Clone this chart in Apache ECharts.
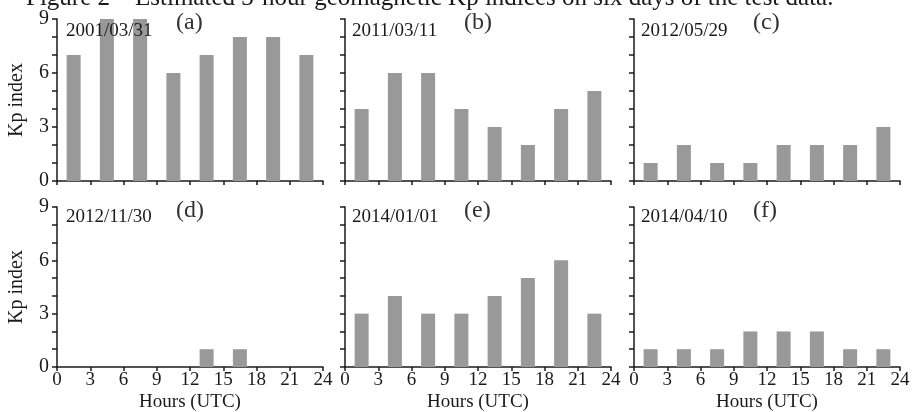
<!DOCTYPE html>
<html>
<head>
<meta charset="utf-8">
<script src="https://cdn.jsdelivr.net/npm/echarts@6/dist/echarts.min.js"></script>
<style>
  html, body { margin: 0; padding: 0; background: #fff; }
  #main { width: 912px; height: 412px; }
</style>
</head>
<body>
<div id="main"></div>
<script>
// 3-hour Kp index for each day, bins centred at 1.5, 4.5, ... 22.5 UTC
var hours = [1.5, 4.5, 7.5, 10.5, 13.5, 16.5, 19.5, 22.5];
var xTicks = ['0', '3', '6', '9', '12', '15', '18', '21', '24'];
var yTicks = ['0', '3', '6', '9'];
var dates = ['2001/03/31', '2011/03/11', '2012/05/29', '2012/11/30', '2014/01/01', '2014/04/10'];
var panelTags = ['(a)', '(b)', '(c)', '(d)', '(e)', '(f)'];
var kpA = [7, 9, 9, 6, 7, 8, 8, 7];
var kpB = [4, 6, 6, 4, 3, 2, 4, 5];
var kpC = [1, 2, 1, 1, 2, 2, 2, 3];
var kpD = [0, 0, 0, 0, 1, 1, 0, 0];
var kpE = [3, 4, 3, 3, 4, 5, 6, 3];
var kpF = [1, 1, 1, 2, 2, 2, 1, 1];
var kpAll = [kpA, kpB, kpC, kpD, kpE, kpF];

var myChart = echarts.init(document.getElementById('main'));

var font = '"Liberation Serif", "DejaVu Serif", serif';
var ink = '#1a1a1a';
var lefts = [57, 345, 634];
var tops = [19, 207];
var w = 266, h = [162, 160];

var grid = [], xAxis = [], yAxis = [], series = [], graphic = [];

for (var i = 0; i < 6; i++) {
    var col = i % 3, row = Math.floor(i / 3);
    // keep the grid boxes fixed, labels may sit near the edge
    grid.push({ left: lefts[col], top: tops[row], width: w, height: h[row], outerBoundsMode: 'none', containLabel: false });
    xAxis.push({
        type: 'value', gridIndex: i, min: 0, max: 24, interval: 3,
        axisLine: { lineStyle: { color: ink, width: 1.5 } },
        axisTick: { show: true, length: 4, lineStyle: { color: ink, width: 1.5 } },
        splitLine: { show: false },
        axisLabel: {
            show: row === 1, margin: 4, color: ink, fontFamily: font, fontSize: 19,
            formatter: function (v) { return xTicks[v / 3]; }
        },
        name: row === 1 ? 'Hours (UTC)' : '',
        nameLocation: 'middle', nameGap: 26,
        nameTextStyle: { color: ink, fontFamily: font, fontSize: 19 }
    });
    yAxis.push({
        type: 'value', gridIndex: i, min: 0, max: 9, interval: 1,
        axisLine: { show: true, lineStyle: { color: ink, width: 1.5 } },
        axisTick: { show: true, length: 5, lineStyle: { color: ink, width: 1.5 } },
        splitLine: { show: false },
        axisLabel: {
            show: col === 0, margin: 8, color: ink, fontFamily: font, fontSize: 20,
            formatter: function (v) { return v % 3 === 0 ? yTicks[v / 3] : ''; }
        },
        name: col === 0 ? 'Kp index' : '',
        nameLocation: 'middle', nameGap: 30, nameRotate: 90,
        nameTextStyle: { color: ink, fontFamily: font, fontSize: 20 }
    });
    series.push({
        type: 'bar', xAxisIndex: i, yAxisIndex: i, barWidth: 14,
        itemStyle: { color: '#999999' },
        data: hours.map(function (hr, k) { return [hr, kpAll[i][k]]; })
    });
    graphic.push({
        type: 'text', z: 100, left: lefts[col] + (col === 0 ? 9 : 7), top: tops[row] + (row === 0 ? 3 : 1),
        style: { text: dates[i], font: '19px ' + font, fill: ink }
    });
    graphic.push({
        type: 'text', z: 100, left: lefts[col] + 119, top: tops[row] - 8,
        style: { text: panelTags[i], font: '24px ' + font, fill: '#333' }
    });
}

// figure caption, cut off at the top edge as in the source image
graphic.push({
    type: 'text', z: 100, left: 26, top: -14,
    style: { text: 'Figure 2    Estimated 3-hour geomagnetic Kp indices on six days of the test data.', font: '25px ' + font, fill: ink }
});

var option = {
    animation: false,
    grid: grid,
    xAxis: xAxis,
    yAxis: yAxis,
    series: series,
    graphic: graphic
};
myChart.setOption(option);
</script>
</body>
</html>
